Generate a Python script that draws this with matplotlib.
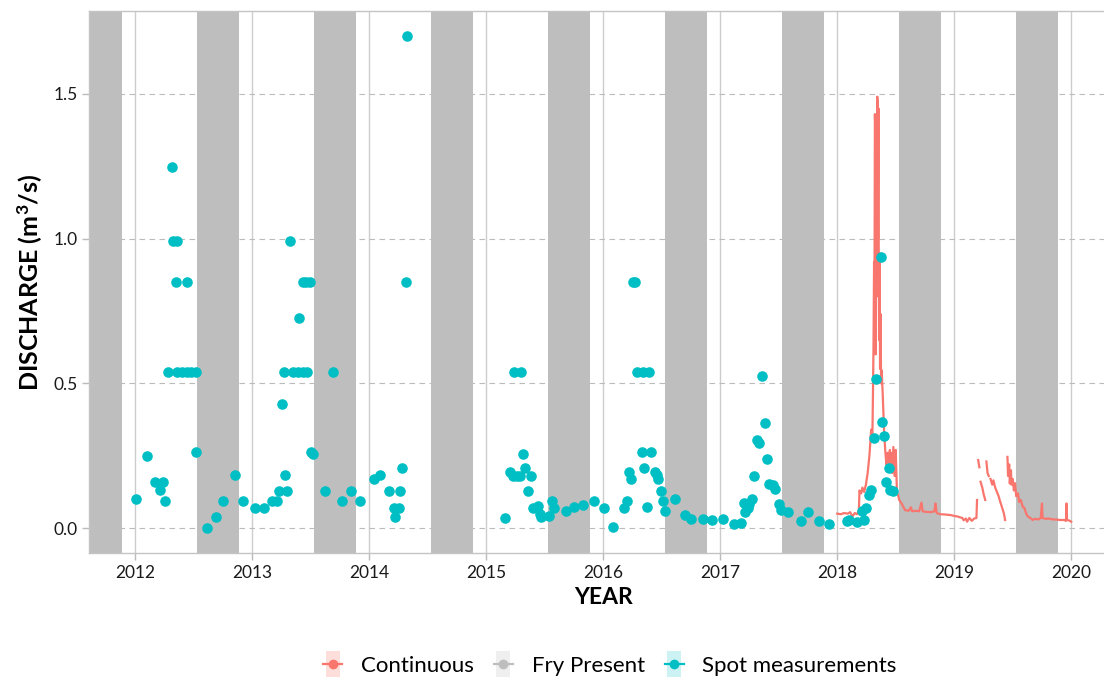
import numpy as np
import matplotlib
matplotlib.use("Agg")
import matplotlib.pyplot as plt
from matplotlib.lines import Line2D
from matplotlib.path import Path
from matplotlib.legend_handler import HandlerTuple

plt.rcParams['font.family'] = ['Lato', 'DejaVu Sans']
plt.rcParams['mathtext.fontset'] = 'custom'
plt.rcParams['mathtext.rm'] = 'Lato'
plt.rcParams['mathtext.bf'] = 'Lato:bold'
plt.rcParams['mathtext.default'] = 'regular'

# spot measurements (decimal year, m3/s)
spot_year = [2012.01, 2012.10, 2012.17, 2012.21, 2012.24, 2012.25, 2012.28, 2012.31,
             2012.32, 2012.36, 2012.35, 2012.44, 2012.36, 2012.40, 2012.44, 2012.48,
             2012.52, 2012.52, 2012.61, 2012.69, 2012.75, 2012.85, 2012.92,
             2013.02, 2013.10, 2013.17, 2013.21, 2013.23, 2013.30, 2013.28, 2013.25,
             2013.27, 2013.32, 2013.35, 2013.39, 2013.43, 2013.47, 2013.40, 2013.43,
             2013.46, 2013.49, 2013.50, 2013.52, 2013.62, 2013.69, 2013.77, 2013.84,
             2013.92, 2014.04, 2014.09, 2014.17, 2014.21, 2014.25, 2014.22, 2014.26,
             2014.28, 2014.31, 2014.32,
             2015.16, 2015.20, 2015.23, 2015.26, 2015.29, 2015.24, 2015.30, 2015.31,
             2015.33, 2015.38, 2015.36, 2015.40, 2015.44, 2015.47, 2015.54, 2015.46,
             2015.56, 2015.58, 2015.68, 2015.75, 2015.83, 2015.92, 2016.01, 2016.08,
             2016.18, 2016.20, 2016.22, 2016.24, 2016.25, 2016.27, 2016.29, 2016.34,
             2016.39, 2016.33, 2016.41, 2016.35, 2016.37, 2016.44, 2016.46, 2016.47,
             2016.49, 2016.51, 2016.53, 2016.61, 2016.70, 2016.75, 2016.85, 2016.93,
             2017.02, 2017.12, 2017.18, 2017.20, 2017.21, 2017.24, 2017.25, 2017.27,
             2017.29, 2017.31, 2017.33, 2017.36, 2017.38, 2017.40, 2017.42, 2017.45,
             2017.47, 2017.50, 2017.52, 2017.58, 2017.69, 2017.75, 2017.84, 2017.93,
             2018.08, 2018.10, 2018.17, 2018.23, 2018.21, 2018.25, 2018.27, 2018.29,
             2018.31, 2018.33, 2018.37, 2018.38, 2018.40, 2018.44, 2018.42, 2018.45,
             2018.48]
spot_q = [0.100, 0.250, 0.158, 0.131, 0.158, 0.094, 0.538, 1.246,
          0.990, 0.990, 0.850, 0.850, 0.538, 0.538, 0.538, 0.538,
          0.538, 0.263, 0.000, 0.039, 0.094, 0.183, 0.094,
          0.068, 0.068, 0.094, 0.094, 0.129, 0.129, 0.183, 0.428,
          0.538, 0.993, 0.538, 0.538, 0.538, 0.538, 0.725, 0.850,
          0.850, 0.850, 0.263, 0.256, 0.129, 0.538, 0.094, 0.129,
          0.094, 0.169, 0.183, 0.129, 0.068, 0.068, 0.039, 0.129,
          0.206, 0.850, 1.700,
          0.034, 0.194, 0.180, 0.180, 0.180, 0.539, 0.539, 0.257,
          0.206, 0.180, 0.129, 0.071, 0.076, 0.040, 0.042, 0.050,
          0.094, 0.068, 0.059, 0.074, 0.079, 0.094, 0.068, 0.005,
          0.071, 0.094, 0.194, 0.168, 0.850, 0.850, 0.539, 0.539,
          0.539, 0.263, 0.263, 0.206, 0.074, 0.194, 0.183, 0.168,
          0.129, 0.094, 0.059, 0.102, 0.046, 0.032, 0.030, 0.028,
          0.031, 0.014, 0.016, 0.085, 0.056, 0.068, 0.083, 0.101,
          0.179, 0.306, 0.294, 0.524, 0.364, 0.238, 0.151, 0.148,
          0.136, 0.083, 0.062, 0.056, 0.025, 0.054, 0.024, 0.015,
          0.025, 0.028, 0.022, 0.028, 0.060, 0.071, 0.114, 0.131,
          0.311, 0.514, 0.936, 0.367, 0.317, 0.208, 0.160, 0.131,
          0.129]

# continuous logger record, NaN = gap
nan = np.nan
cont_year = [2018.00, 2018.03, 2018.06, 2018.09, 2018.11, 2018.13, 2018.15, 2018.17,
             2018.185, 2018.19, 2018.205, 2018.215, 2018.23, 2018.245, 2018.26, 2018.275,
             2018.29, 2018.30, 2018.305, 2018.31, 2018.315, 2018.318, 2018.322, 2018.325,
             2018.328, 2018.332, 2018.335, 2018.338, 2018.342, 2018.345, 2018.348, 2018.352,
             2018.355, 2018.358, 2018.362, 2018.366, 2018.37, 2018.375, 2018.38, 2018.39,
             2018.40, 2018.41, 2018.42, 2018.43, 2018.44, 2018.45, 2018.46, 2018.465,
             2018.47, 2018.48, 2018.49, 2018.50, 2018.51, 2018.53, 2018.55, 2018.58,
             2018.61, 2018.63, 2018.64, 2018.67, 2018.70, 2018.72, 2018.73, 2018.76,
             2018.80, 2018.83, 2018.84, 2018.85, 2018.88, 2018.92, 2018.97, 2019.00,
             2019.03, 2019.05, 2019.07, 2019.08, 2019.10, 2019.11, 2019.13, 2019.15,
             2019.17, 2019.19, 2019.195, nan,
             2019.205, 2019.215, nan,
             2019.225, 2019.24, 2019.25, 2019.265, nan,
             2019.275, 2019.285, 2019.295, nan,
             2019.31, 2019.325, 2019.335, 2019.35, 2019.37, 2019.38, 2019.39, 2019.41,
             2019.425, 2019.435, nan,
             2019.455, 2019.46, 2019.47, 2019.475, 2019.485, 2019.49, 2019.50, 2019.51,
             2019.52, 2019.53, 2019.545, 2019.555, 2019.57, 2019.585, 2019.60, 2019.615,
             2019.63, 2019.65, 2019.67, 2019.69, 2019.72, 2019.74, 2019.75, 2019.755,
             2019.78, 2019.81, 2019.84, 2019.87, 2019.90, 2019.94, 2019.955, 2019.96,
             2019.965, 2019.99, 2020.00]
cont_q = [0.050, 0.048, 0.052, 0.050, 0.055, 0.040, 0.052, 0.048,
          0.060, 0.130, 0.120, 0.140, 0.125, 0.150, 0.190, 0.250,
          0.340, 0.300, 0.450, 0.630, 0.920, 0.700, 1.430, 1.380,
          0.600, 1.400, 0.970, 0.800, 1.490, 1.470, 1.000, 1.450,
          0.900, 0.650, 0.950, 0.550, 0.740, 0.500, 0.545, 0.450,
          0.340, 0.270, 0.220, 0.260, 0.220, 0.270, 0.200, 0.260,
          0.190, 0.280, 0.180, 0.270, 0.130, 0.097, 0.085, 0.062,
          0.060, 0.072, 0.058, 0.060, 0.058, 0.088, 0.058, 0.056,
          0.055, 0.058, 0.085, 0.052, 0.048, 0.047, 0.045, 0.042,
          0.040, 0.037, 0.035, 0.027, 0.033, 0.022, 0.035, 0.025,
          0.033, 0.035, 0.097, nan,
          0.235, 0.210, nan,
          0.160, 0.140, 0.120, 0.097, nan,
          0.230, 0.190, 0.180, nan,
          0.170, 0.150, 0.165, 0.140, 0.120, 0.110, 0.095, 0.070,
          0.050, 0.028, nan,
          0.246, 0.180, 0.220, 0.154, 0.200, 0.150, 0.170, 0.130,
          0.155, 0.110, 0.120, 0.090, 0.097, 0.074, 0.070, 0.050,
          0.040, 0.035, 0.028, 0.032, 0.030, 0.035, 0.085, 0.035,
          0.032, 0.033, 0.030, 0.030, 0.028, 0.028, 0.025, 0.085,
          0.028, 0.025, 0.022]

# fry present windows (mid July to late Nov each year)
fry_start = [2011.53, 2012.53, 2013.53, 2014.53, 2015.53, 2016.53, 2017.53, 2018.53, 2019.53]
fry_end = [2011.89, 2012.89, 2013.89, 2014.89, 2015.89, 2016.89, 2017.89, 2018.89, 2019.89]

years = [2012, 2013, 2014, 2015, 2016, 2017, 2018, 2019, 2020]
yticks = [0.0, 0.5, 1.0, 1.5]

c_cont = '#F8766D'
c_spot = '#00BFC4'
c_fry = '#BEBEBE'

fig = plt.figure(figsize=(11.04, 6.79), dpi=100)
ax = fig.add_axes([89/1104, 1 - 553/679, (1118 - 89)/1104, 542/679])

for s, e in zip(fry_start, fry_end):
    ax.axvspan(s, e, color=c_fry, lw=0, zorder=2)

ax.plot(cont_year, cont_q, color=c_cont, lw=1.6, zorder=3)
ax.scatter(spot_year, spot_q, s=58, color=c_spot, lw=0, zorder=4)

ax.set_xlim(2011.604, 2020.40)
ax.set_ylim(-0.086, 1.786)
ax.set_xticks(years)
ax.set_xticklabels([str(y) for y in years])
ax.set_yticks(yticks)
ax.set_yticklabels(['%.1f' % v for v in yticks])

ax.grid(axis='x', color='#CCCCCC', lw=1.0, zorder=1)
ax.grid(axis='y', color='#BBBBBB', lw=0.8, linestyle=(0, (5, 4)), zorder=1)
ax.set_axisbelow(True)

for side in ['left', 'top', 'bottom', 'right']:
    ax.spines[side].set_color('#C4C4C4')
    ax.spines[side].set_linewidth(1.0)

ax.tick_params(axis='both', colors='#BBBBBB', labelcolor='#1A1A1A', labelsize=12.5, width=1.0)
ax.tick_params(axis='y', length=5, pad=3)
ax.tick_params(axis='x', length=5, pad=4)

ax.set_ylabel(r'DISCHARGE (m$^{3}$/s)', fontsize=18, fontweight='bold', va='center')
ax.yaxis.set_label_coords(-59/1029, 0.5)
ax.set_xlabel('YEAR', fontsize=16.5, fontweight='bold', va='center')
ax.xaxis.set_label_coords(0.5, -45/542)

rect = Path([(-0.27, -0.5), (0.27, -0.5), (0.27, 0.5), (-0.27, 0.5), (-0.27, -0.5)])
def key(light, dark):
    box = Line2D([], [], marker=rect, markersize=19, color=light, linestyle='none', markeredgewidth=0)
    ln = Line2D([], [], color=dark, lw=1.6, marker='o', markersize=7, markeredgewidth=0)
    return (box, ln)

handles = [key('#FDDEDB', c_cont), key('#EFEFEF', c_fry), key('#CCF2F3', c_spot)]
labels = ['Continuous', 'Fry Present', 'Spot measurements']
fig.legend(handles, labels, loc='center', bbox_to_anchor=(610/1104, 13/679),
           ncol=3, frameon=False, fontsize=16, handlelength=0.85, handletextpad=0.85,
           columnspacing=0.9, handler_map={tuple: HandlerTuple(ndivide=1)})

fig.savefig('out.png', dpi=100)
